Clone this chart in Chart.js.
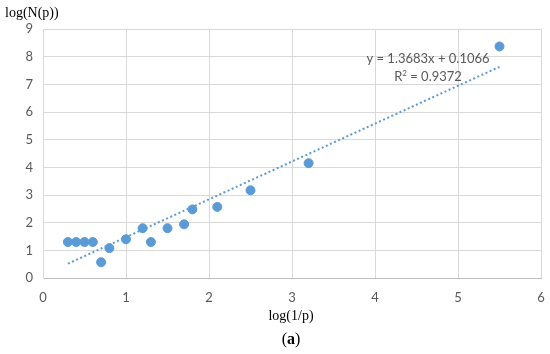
<!DOCTYPE html>
<html><head><meta charset="utf-8">
<script src="https://cdn.jsdelivr.net/npm/chart.js@4.4.1/dist/chart.umd.min.js"></script>
<style>html,body{margin:0;padding:0;background:#fff}#wrap{width:550px;height:354px;position:relative}</style>
</head><body><div id="wrap"><canvas id="c" width="550" height="354"></canvas></div>
<script>
const xValues = [0.3, 0.4, 0.5, 0.6, 0.7, 0.8, 1.0, 1.2, 1.3, 1.5, 1.7, 1.8, 2.1, 2.5, 3.2, 5.5];
const yValues = [1.3, 1.3, 1.3, 1.3, 0.57, 1.08, 1.4, 1.8, 1.3, 1.8, 1.94, 2.48, 2.57, 3.17, 4.15, 8.37];
const trendSlope = 1.3683;
const trendIntercept = 0.1066;
const trendRange = [0.3, 5.5];
const xTicks = [0, 1, 2, 3, 4, 5, 6];
const yTicks = [0, 1, 2, 3, 4, 5, 6, 7, 8, 9];
const eqText = 'y = 1.3683x + 0.1066';
const r2Text = '= 0.9372';

const pts = xValues.map((x, i) => ({x, y: yValues[i]}));
const trend = trendRange.map(x => ({x, y: trendSlope * x + trendIntercept}));

const textPlugin = {
  id: 'texts',
  afterDraw(chart) {
    const ctx = chart.ctx;
    ctx.save();
    ctx.fillStyle = '#000';
    ctx.font = '14px "Liberation Serif"';
    ctx.textBaseline = 'middle';
    ctx.textAlign = 'left';
    ctx.fillText('log(N(p))', 5, 13);
    ctx.textAlign = 'center';
    ctx.fillText('log(1/p)', 291, 316);
    // (a) with bold a
    ctx.font = 'bold 16px "Liberation Serif"';
    const wa = ctx.measureText('a').width;
    ctx.font = '16px "Liberation Serif"';
    const wp = ctx.measureText('(').width, wq = ctx.measureText(')').width;
    let x0 = 291 - (wp + wa + wq) / 2;
    ctx.textAlign = 'left';
    ctx.fillText('(', x0, 340);
    ctx.font = 'bold 16px "Liberation Serif"';
    ctx.fillText('a', x0 + wp, 340);
    ctx.font = '16px "Liberation Serif"';
    ctx.fillText(')', x0 + wp + wa, 340);
    // equation
    ctx.fillStyle = '#595959';
    ctx.font = '13px Lato';
    ctx.textAlign = 'center';
    ctx.fillText(eqText, 428, 59);
    const wR = ctx.measureText('R').width;
    ctx.font = '8px Lato';
    const w2 = ctx.measureText('2').width;
    ctx.font = '13px Lato';
    const wr = ctx.measureText(' ' + r2Text).width;
    let rx = 428 - (wR + w2 + wr) / 2;
    ctx.textAlign = 'left';
    ctx.fillText('R', rx, 77);
    ctx.font = '8px Lato';
    ctx.fillText('2', rx + wR, 73);
    ctx.font = '13px Lato';
    ctx.fillText(' ' + r2Text, rx + wR + w2, 77);
    ctx.restore();
  }
};

new Chart(document.getElementById('c'), {
  type: 'scatter',
  data: {
    datasets: [
      {data: pts, backgroundColor: '#5B9BD5', borderColor: '#5B9BD5', pointRadius: 4.5, pointHoverRadius: 4.5, order: 1},
      {type: 'line', data: trend, borderColor: '#5B9BD5', borderWidth: 2, borderDash: [2, 2.5], pointRadius: 0, fill: false, showLine: true, order: 2}
    ]
  },
  options: {
    responsive: false,
    animation: false,
    events: [],
    layout: {padding: {top: 29, right: 9, left: 0, bottom: 0}},
    plugins: {legend: {display: false}, tooltip: {enabled: false}},
    scales: {
      x: {
        type: 'linear', min: 0, max: 6,
        afterBuildTicks: s => { s.ticks = xTicks.map(v => ({value: v})); },
        afterFit: s => { s.height = 76; s.paddingRight = 0; s.paddingLeft = 0; },
        grid: {color: '#d9d9d9', lineWidth: 1, drawTicks: false},
        border: {color: '#bfbfbf', width: 1},
        ticks: {color: '#595959', font: {family: 'Lato', size: 13}, padding: 12}
      },
      y: {
        type: 'linear', min: 0, max: 9,
        afterBuildTicks: s => { s.ticks = yTicks.map(v => ({value: v})); },
        afterFit: s => { s.width = 43; s.paddingTop = 0; s.paddingBottom = 0; },
        grid: {color: '#d9d9d9', lineWidth: 1, drawTicks: false},
        border: {color: '#d9d9d9', width: 1},
        ticks: {color: '#595959', font: {family: 'Lato', size: 13}, padding: 10}
      }
    }
  },
  plugins: [textPlugin]
});
</script></body></html>
